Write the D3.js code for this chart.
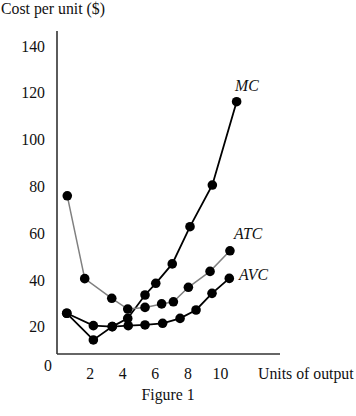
<!DOCTYPE html>
<html>
<head>
<meta charset="utf-8">
<script src="https://cdn.jsdelivr.net/npm/d3@7"></script>
<style>
  html, body { margin: 0; padding: 0; background: #fff; }
  svg { display: block; font-family: "Liberation Serif", "DejaVu Serif", serif; }
</style>
</head>
<body>
<svg id="chart" width="356" height="416"></svg>
<script>
// ---- data ----
const mcQ   = [0.6, 2.23, 3.39, 4.34, 5.4, 6.06, 7.07, 8.16, 9.53, 11.02];
const mcV   = [25.7, 14.3, 20.0, 23.5, 33.5, 38.5, 46.8, 62.7, 80.5, 116.1];
const atcQ  = [0.63, 1.7, 3.36, 4.34, 5.4, 6.42, 7.14, 8.06, 9.39, 10.61];
const atcV  = [75.9, 40.5, 32.1, 27.5, 28.2, 29.7, 30.6, 36.8, 43.6, 52.4];
const avcQ  = [0.6, 2.23, 3.39, 4.37, 5.4, 6.48, 7.55, 8.53, 9.51, 10.57];
const avcV  = [25.7, 20.4, 20.0, 20.4, 20.7, 21.4, 23.5, 27.1, 34.2, 40.6];
const xTicks = [2, 4, 6, 8, 10];
const yTicks = [20, 40, 60, 80, 100, 120, 140];
const seriesNames = ["MC", "ATC", "AVC"];

const svg = d3.select("#chart");
const x = d3.scaleLinear().domain([0, 10]).range([57, 220]);
const y = d3.scaleLinear().domain([0, 140]).range([373.4, 45.8]);
const FS = 15.8;

// axes lines
svg.append("line").attr("x1", 57).attr("x2", 57).attr("y1", 31).attr("y2", 354)
  .attr("stroke", "#333").attr("stroke-width", 1.6);
svg.append("line").attr("x1", 57).attr("x2", 280).attr("y1", 354).attr("y2", 354)
  .attr("stroke", "#333").attr("stroke-width", 1.6);

// y tick labels
const yAxis = d3.axisLeft(y).tickValues(yTicks).tickSize(0).tickPadding(0);
const gy = svg.append("g").attr("transform", "translate(45,0)").call(yAxis);
gy.select(".domain").remove();
gy.selectAll("text").attr("font-size", FS).attr("fill", "#111")
  .attr("font-family", "Liberation Serif, serif").attr("dy", "0.34em");

// x tick labels
const xAxis = d3.axisBottom(x).tickValues(xTicks).tickSize(0).tickPadding(0);
const gx = svg.append("g").attr("transform", "translate(0,368)").call(xAxis);
gx.select(".domain").remove();
gx.selectAll("text").attr("font-size", FS).attr("fill", "#111")
  .attr("font-family", "Liberation Serif, serif");

// origin label
svg.append("text").attr("x", x(0) - 9).attr("y", 371).attr("text-anchor", "middle")
  .attr("font-size", FS).attr("fill", "#111").text("0");

// titles
svg.append("text").attr("x", 1).attr("y", 14).attr("font-size", FS).attr("fill", "#111")
  .text("Cost per unit ($)");
svg.append("text").attr("x", 258).attr("y", 379).attr("font-size", FS).attr("fill", "#111")
  .text("Units of output");
svg.append("text").attr("x", 168).attr("y", 400).attr("text-anchor", "middle")
  .attr("font-size", FS).attr("fill", "#111").text("Figure 1");

// series
const series = [
  { name: seriesNames[0], q: mcQ, v: mcV, color: "#000", width: 1.8 },
  { name: seriesNames[1], q: atcQ, v: atcV, color: "#808080", width: 1.5 },
  { name: seriesNames[2], q: avcQ, v: avcV, color: "#000", width: 1.8 }
];
const line = d3.line().x(d => x(d[0])).y(d => y(d[1]));

series.forEach(s => {
  const pts = s.q.map((q, i) => [q, s.v[i]]);
  svg.append("path").datum(pts).attr("d", line)
    .attr("fill", "none").attr("stroke", s.color).attr("stroke-width", s.width);
});
series.forEach(s => {
  const pts = s.q.map((q, i) => [q, s.v[i]]);
  svg.append("g").selectAll("circle").data(pts).join("circle")
    .attr("cx", d => x(d[0])).attr("cy", d => y(d[1])).attr("r", 4.8).attr("fill", "#000");
});

// series labels
const labelPos = { MC: [235, 91], ATC: [234, 239], AVC: [239, 280] };
series.forEach(s => {
  svg.append("text").attr("x", labelPos[s.name][0]).attr("y", labelPos[s.name][1])
    .attr("font-size", FS).attr("font-style", "italic").attr("fill", "#111").text(s.name);
});
</script>
</body>
</html>
